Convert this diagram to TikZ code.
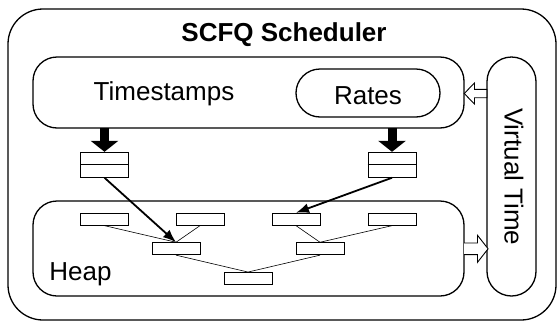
\documentclass[tikz,border=0pt]{standalone}
\usepackage{fontspec}
\setmainfont{Liberation Sans}
\usetikzlibrary{arrows.meta,calc}
\begin{document}
\begin{tikzpicture}[x=1pt,y=-1pt,
  lbl/.style={font=\fontsize{26}{30}\selectfont, inner sep=0pt},
  panel/.style={draw, line width=1.3pt},
  slot/.style={draw, line width=0.9pt, minimum width=48pt, minimum height=12pt, inner sep=0pt},
  bufbox/.style={draw, line width=0.9pt, minimum width=48pt, minimum height=25pt, inner sep=0pt},
  link/.style={line width=0.6pt},
  feed/.style={line width=1.8pt, -{Latex[length=13pt,width=10pt]}},
  push/.style={line width=9pt, -{Triangle[width=27pt,length=11pt]}},
  hollow/.style={draw, line width=0.9pt, fill=white, line join=miter}
]
\useasboundingbox (0,0) rectangle (558,322);

% outer frame and title
\draw[panel, rounded corners=35pt] (8,9) rectangle (556,320);
\node[lbl, font=\fontsize{26}{30}\selectfont\bfseries, anchor=base] (title) at (284,41.7) {SCFQ Scheduler};

% main panels
\draw[panel, rounded corners=24pt] (33,57) rectangle (464,128);
\coordinate (ts) at (248.5,92.5);
\node[inner sep=0pt, minimum width=431pt, minimum height=71pt] (tsbox) at (248.5,92.5) {};
\node[lbl, anchor=base] (tstext) at (164,100) {Timestamps};
\node[panel, rounded corners=24pt, minimum width=144pt, minimum height=48pt, inner sep=0pt] (rates) at (368,93) {};
\node[lbl, anchor=base] (ratestext) at (368,104) {Rates};

\draw[panel, rounded corners=24pt] (33,201) rectangle (464,296);
\node[inner sep=0pt, minimum width=431pt, minimum height=95pt] (heapbox) at (248.5,248.5) {};
\node[lbl, anchor=base] (heaptext) at (80.5,280) {Heap};

\node[panel, rounded corners=24.5pt, minimum width=49pt, minimum height=239pt, inner sep=0pt] (vt) at (511.5,176.5) {};
\node[lbl, rotate=-90] (vttext) at (514,176.7) {Virtual Time};

% input buffers
\node[bufbox] (bufL) at (104.5,164.8) {};
\node[bufbox] (bufR) at (392,164.8) {};
\draw[line width=0.9pt] (bufL.west) -- (bufL.east);
\draw[line width=0.9pt] (bufR.west) -- (bufR.east);

% heap slots
\node[slot] (h1) at (104.5,219.2) {};
\node[slot] (h2) at (200,219.2) {};
\node[slot] (h3) at (296,219.2) {};
\node[slot] (h4) at (392,219.2) {};
\node[slot] (m1) at (176,248.7) {};
\node[slot] (m2) at (320,248.7) {};
\node[slot] (root) at (248,278.5) {};

\draw[link] (h1.south) -- (m1.north);
\draw[link] (h2.south) -- (m1.north);
\draw[link] (h3.south) -- (m2.north);
\draw[link] (h4.south) -- (m2.north);
\draw[link] (m1.south) -- (root.north);
\draw[link] (m2.south) -- (root.north);

% timestamps pushed into buffers
\draw[push] (bufL.north |- tsbox.south) -- (bufL.north);
\draw[push] (bufR.north |- tsbox.south) -- (bufR.north);

% buffers feeding the heap
\draw[feed] (bufL.south) -- (m1.north);
\draw[feed] (bufR.south) -- (h3.north);

% virtual time exchange
\coordinate (upTip) at (tsbox.east |- 0,93.5);
\draw[hollow] (upTip) -- ++(10.3,-10.5) -- ++(0,6.3) -- ++(12.4,0) -- ++(0,8.4)
  -- ++(-12.4,0) -- ++(0,6.3) -- cycle;
\coordinate (dnTail) at (heapbox.east |- 0,248.8);
\draw[hollow] (dnTail) ++(0,-5.8) -- ++(13.3,0) -- ++(0,-7.7) -- ++(10.6,13.5)
  -- ++(-10.6,13.5) -- ++(0,-7.7) -- ++(-13.3,0);
\end{tikzpicture}
\end{document}
